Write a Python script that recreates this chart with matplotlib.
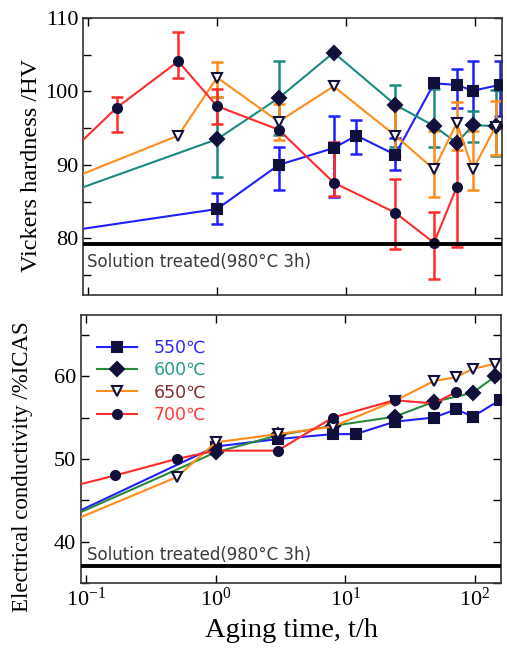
import numpy as np
import matplotlib
matplotlib.use('Agg')
import matplotlib.pyplot as plt
from matplotlib.ticker import MultipleLocator, LogLocator, NullLocator

plt.rcParams['font.family'] = ['Liberation Serif', 'DejaVu Serif']
plt.rcParams['mathtext.fontset'] = 'stix'

nan = np.nan

# Dureza Vickers (panel superior); lo/hi = extremos de las barras de error
t_550 = [0.083, 1, 3, 8, 12, 24, 48, 72, 96, 155]
hv_550 = [81.2, 84.0, 90.0, 92.3, 94.0, 91.4, 101.1, 100.9, 100.1, 100.9]
lo_550 = [nan, 81.9, 86.6, 85.7, 91.5, 89.3, nan, 97.8, 95.5, 96.7]
hi_550 = [nan, 86.2, 92.5, 96.7, 96.1, 93.6, nan, 103.1, 104.1, 104.1]

t_600 = [0.083, 1, 3, 8, 24, 48, 72, 96, 144]
hv_600 = [86.7, 93.5, 99.1, 105.3, 98.2, 95.3, 93.0, 95.4, 95.3]
lo_600 = [nan, 88.3, 94.1, nan, 92.5, 92.5, nan, 93.1, 91.2]
hi_600 = [nan, 99.2, 104.1, nan, 100.9, 100.3, nan, 97.4, 100.2]

t_650 = [0.083, 0.5, 1, 3, 8, 24, 48, 72, 96, 144]
hv_650 = [88.5, 94.0, 101.9, 95.9, 100.7, 94.0, 89.4, 95.7, 89.4, 95.2]
lo_650 = [nan, nan, 99.3, 93.4, nan, 91.2, 85.7, 92.0, 86.6, 91.4]
hi_650 = [nan, nan, 104.0, 98.3, nan, 97.8, 94.6, 98.5, 94.6, 98.7]

t_700 = [0.083, 0.167, 0.5, 1, 3, 8, 24, 48, 72]
hv_700 = [92.7, 97.8, 104.1, 98.0, 94.8, 87.6, 83.5, 79.4, 87.0]
lo_700 = [nan, 94.5, 101.9, 95.6, nan, 85.8, 78.5, 74.5, 78.8]
hi_700 = [nan, 99.3, 108.1, 100.4, nan, 93.1, 88.1, 83.6, 93.0]

# Conductividad eléctrica (panel inferior)
te_550 = [0.083, 1, 3, 8, 12, 24, 48, 72, 96, 155]
ec_550 = [43.5, 51.5, 52.4, 53.0, 53.0, 54.5, 55.0, 56.0, 55.1, 57.1]
te_600 = [0.083, 1, 3, 8, 24, 48, 96, 144]
ec_600 = [43.3, 50.8, 52.85, 54.0, 55.1, 56.9, 58.0, 60.0]
te_650 = [0.083, 0.5, 1, 3, 8, 24, 48, 72, 96, 144]
ec_650 = [42.7, 47.8, 52.0, 53.0, 53.9, 57.0, 59.4, 59.9, 60.9, 61.5]
te_700 = [0.083, 0.167, 0.5, 1, 3, 8, 24, 48, 72]
ec_700 = [46.8, 48.0, 50.0, 51.0, 51.0, 55.0, 57.1, 56.7, 58.1]

hv_solution = 79.2
ec_solution = 37.0
labels = ['550℃', '600℃', '650℃', '700℃']

mk_col = '#10103a'
line_top = ['#1f1fff', '#1a8a80', '#ff8c1a', '#ff2a2a']
line_bot = ['#1f1fff', '#2a8a3a', '#ff8c1a', '#ff2a2a']
text_cols = ['#2a2aff', '#2a9a8a', '#8b2a2a', '#ff3a3a']
markers = ['s', 'D', 'v', 'o']
msizes = [6.5, 7, 6.5, 6.5]

fig = plt.figure(figsize=(5.07, 6.48), dpi=100)
ax1 = fig.add_axes([0.1637, 0.5448, 0.8255, 0.4274])
ax2 = fig.add_axes([0.160, 0.1003, 0.829, 0.4136])

top_series = [(t_550, hv_550, lo_550, hi_550), (t_600, hv_600, lo_600, hi_600),
              (t_650, hv_650, lo_650, hi_650), (t_700, hv_700, lo_700, hi_700)]
for i, (t, v, lo, hi) in enumerate(top_series):
    v = np.array(v)
    yerr = [v - np.array(lo), np.array(hi) - v]
    ax1.errorbar(t, v, yerr=yerr, fmt='none', ecolor=line_top[i], elinewidth=1.8,
                 capsize=4, capthick=1.8, zorder=2)
    mfc = 'white' if markers[i] == 'v' else mk_col
    # el primer punto (fuera del eje) no lleva marcador
    ax1.plot(t, v, '-', color=line_top[i], lw=1.5, marker=markers[i], ms=msizes[i],
             mfc=mfc, mec=mk_col, mew=1.5, markevery=slice(1, None), zorder=3)

bot_series = [(te_550, ec_550), (te_600, ec_600), (te_650, ec_650), (te_700, ec_700)]
handles = []
for i, (t, v) in enumerate(bot_series):
    mfc = 'white' if markers[i] == 'v' else mk_col
    h, = ax2.plot(t, v, '-', color=line_bot[i], lw=1.5, marker=markers[i], ms=msizes[i],
                  mfc=mfc, mec=mk_col, mew=1.5, markevery=slice(1, None), zorder=3,
                  label=labels[i])
    handles.append(h)

ax1.axhline(hv_solution, color='black', lw=2.8, zorder=4)
ax2.axhline(ec_solution, color='black', lw=2.8, zorder=4)
ax1.text(0.01, 76.8, 'Solution treated(980°C 3h)', transform=ax1.get_yaxis_transform(),
         family='DejaVu Sans', fontsize=12, color='#3a3a3a', va='center')
ax2.text(0.015, 38.4, 'Solution treated(980°C 3h)', transform=ax2.get_yaxis_transform(),
         family='DejaVu Sans', fontsize=12, color='#3a3a3a', va='center')

for ax in (ax1, ax2):
    ax.set_xscale('log')
    ax.set_xlim(0.0914, 160)
    ax.xaxis.set_major_locator(LogLocator(base=10, numticks=10))
    ax.xaxis.set_minor_locator(NullLocator())
    ax.tick_params(which='both', direction='in', top=True, right=True,
                   length=6, width=1, labelsize=16)
    for s in ax.spines.values():
        s.set_linewidth(1.2)
        s.set_color('#333333')

ax1.set_ylim(72.3, 110)
ax1.yaxis.set_major_locator(MultipleLocator(10))
ax1.yaxis.set_minor_locator(MultipleLocator(5))
ax1.tick_params(labelbottom=False)
ax1.set_ylabel('Vickers hardness /HV', fontsize=17.5)
ax1.yaxis.set_label_coords(-0.098, 0.466)

ax2.set_ylim(35, 67.4)
ax2.yaxis.set_major_locator(MultipleLocator(10))
ax2.yaxis.set_minor_locator(MultipleLocator(5))
ax2.set_ylabel('Electrical conductivity /%ICAS', fontsize=16.5)
ax2.yaxis.set_label_coords(-0.114, 0.433)
ax2.set_xlabel('Aging time, t/h', fontsize=20.5, labelpad=5)

leg = ax2.legend(handles=handles, loc='upper left', bbox_to_anchor=(0.0, 0.97),
                 frameon=False, handlelength=2.3, labelspacing=0.25, handletextpad=1.0,
                 prop={'family': ['DejaVu Sans', 'Noto Sans CJK JP'], 'size': 12.5})
for txt, c in zip(leg.get_texts(), text_cols):
    txt.set_color(c)

fig.savefig('out.png', dpi=100)
